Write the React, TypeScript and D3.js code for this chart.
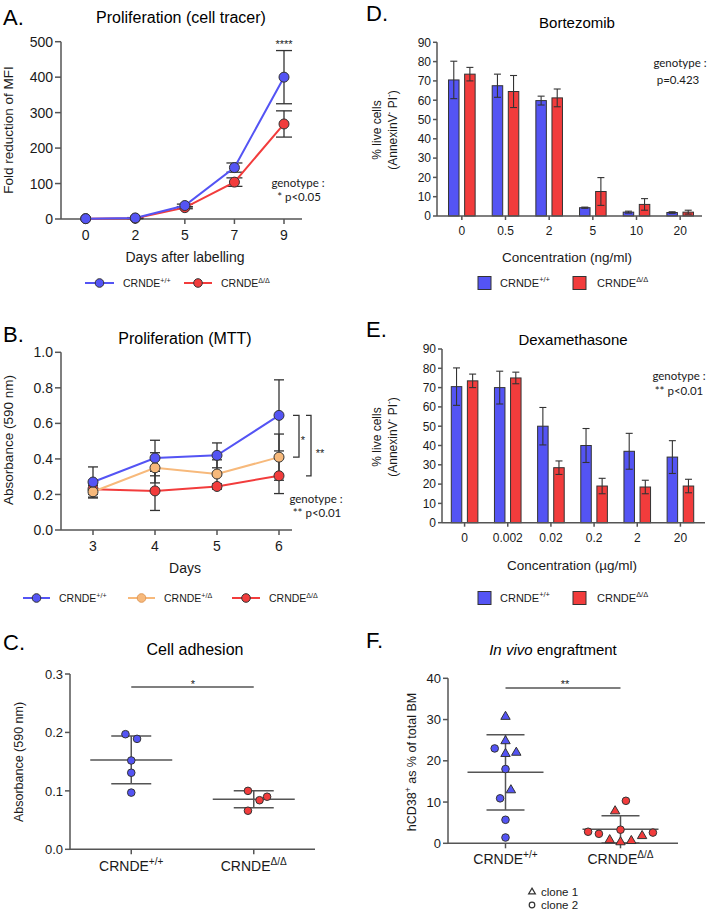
import React from "react";
import * as d3 from "d3";

const BLUE = "#5454f4";
const RED = "#f23c3c";
const ORANGE = "#f7b97b";
const AX = "#555";
const TXT = "#1a1a1a";
const EB = "#333";
const F = "'Liberation Sans', Arial, sans-serif";
const FA = "Lato, 'Open Sans', sans-serif";

// ---------- Panel A: proliferation (cell tracer)
const daysA = ["0", "2", "5", "7", "9"];
const aWT = [1, 3, 38, 145, 400];
const aWTerr = [0, 1, 4, 13, 75];
const aKO = [1, 2, 32, 104, 268];
const aKOerr = [0, 1, 3, 12, 37];
const aTicks = [0, 100, 200, 300, 400, 500];

// ---------- Panel B: proliferation (MTT)
const daysB = ["3", "4", "5", "6"];
const bWT = [0.27, 0.405, 0.42, 0.645];
const bWTerr = [0.085, 0.1, 0.07, 0.2];
const bHet = [0.215, 0.35, 0.315, 0.41];
const bHetErr = [0.035, 0.085, 0.08, 0.13];
const bKO = [0.23, 0.22, 0.245, 0.305];
const bKOerr = [0.03, 0.11, 0.015, 0.1];
const bTicks = [0, 0.2, 0.4, 0.6, 0.8, 1.0];

// ---------- Panel C: cell adhesion
const groups = ["wt", "ko"];
const cWT = [0.197, 0.189, 0.152, 0.131, 0.097];
const cWTslot = [-1, 1, 0, 0, 0];
const cKO = [0.1, 0.084, 0.09, 0.066];
const cKOslot = [-1, 1, 2.3, -1];
const cMean = [0.153, 0.0855];
const cSD = [0.041, 0.0145];
const cTicks = [0, 0.1, 0.2, 0.3];

// ---------- Panel D: bortezomib
const concD = ["0", "0.5", "2", "5", "10", "20"];
const dWT = [70.5, 67.5, 59.8, 4.3, 2.0, 1.8];
const dWTerr = [9.7, 6, 2.3, 0.3, 0.5, 0.4];
const dKO = [73.5, 64.5, 61.2, 12.7, 6.0, 2.0];
const dKOerr = [3.5, 8.3, 4.6, 7.2, 3.0, 1.0];
const pctTicks = [0, 10, 20, 30, 40, 50, 60, 70, 80, 90];

// ---------- Panel E: dexamethasone
const concE = ["0", "0.002", "0.02", "0.2", "2", "20"];
const eWT = [70.5, 70, 50, 40, 37, 34];
const eWTerr = [9.7, 8.5, 9.7, 8.8, 9.3, 8.5];
const eKO = [73.5, 75, 28.5, 19, 18.5, 19];
const eKOerr = [3.5, 3, 3.5, 4, 3.5, 3.5];

// ---------- Panel F: in vivo engraftment
const fWTtri = [30.7, 24.8, 21.7, 22.0, 12.9];
const fWTtriSlot = [0, 0, 0, 2, 1];
const fWTcirc = [23.0, 18.0, 10.9, 5.7, 1.4];
const fWTcircSlot = [-2, 0, -1, 0, 0];
const fKOtri = [7.8, 0.8, 0.3, 0.6, 1.8];
const fKOtriSlot = [-1, -2, 0, 2, 4];
const fKOcirc = [10.3, 3.3, 2.8, 2.3, 2.6];
const fKOcircSlot = [1, 0, -6, -4, 6];
const fMean = [17.2, 3.4];
const fSD = [9.1, 3.3];
const fTicks = [0, 10, 20, 30, 40];

type Part = [string, boolean];
function Rich({ parts, fs, supScale = 0.68 }: { parts: Part[]; fs: number; supScale?: number }) {
  let cur = 0;
  return (
    <>
      {parts.map(([s, sup], i) => {
        const target = sup ? -fs * 0.42 : 0;
        const dy = target - cur;
        cur = target;
        return (
          <tspan key={i} dy={dy} fontSize={sup ? fs * supScale : fs}>
            {s}
          </tspan>
        );
      })}
    </>
  );
}

const WTp: Part[] = [["CRNDE", false], ["+/+", true]];
const HETp: Part[] = [["CRNDE", false], ["+/Δ", true]];
const KOp: Part[] = [["CRNDE", false], ["Δ/Δ", true]];

function YAxis({ scale, x, ticks, fmt, fs, tl = 5 }: any) {
  const [a, b] = scale.range();
  return (
    <g>
      <line x1={x} x2={x} y1={a} y2={b} stroke={AX} strokeWidth={1.5} />
      {ticks.map((t: number) => (
        <g key={t}>
          <line x1={x - tl} x2={x} y1={scale(t)} y2={scale(t)} stroke={AX} strokeWidth={1.5} />
          <text x={x - tl - 2} y={scale(t)} dy="0.36em" textAnchor="end" fontSize={fs} fontFamily={F} fill={TXT}>
            {fmt(t)}
          </text>
        </g>
      ))}
    </g>
  );
}

function XAxis({ y, x0, x1, pos, labels, fs, ly, tl = 5, parts }: any) {
  return (
    <g>
      <line x1={x0} x2={x1} y1={y} y2={y} stroke={AX} strokeWidth={1.5} />
      {pos.map((p: number, i: number) => (
        <g key={i}>
          <line x1={p} x2={p} y1={y} y2={y + tl} stroke={AX} strokeWidth={1.5} />
          <text x={p} y={ly} textAnchor="middle" fontSize={fs} fontFamily={F} fill={TXT}>
            {parts ? <Rich parts={parts[i]} fs={fs} supScale={0.72} /> : labels[i]}
          </text>
        </g>
      ))}
    </g>
  );
}

function ErrBar({ x, y0, y1, cap, w = 1.3 }: any) {
  return (
    <g stroke={EB} strokeWidth={w}>
      <line x1={x} x2={x} y1={y0} y2={y1} />
      <line x1={x - cap} x2={x + cap} y1={y0} y2={y0} />
      <line x1={x - cap} x2={x + cap} y1={y1} y2={y1} />
    </g>
  );
}

function YLabel({ x, y, fs, children }: any) {
  return (
    <text transform={`translate(${x},${y}) rotate(-90)`} textAnchor="middle" fontSize={fs} fontFamily={F} fill={TXT}>
      {children}
    </text>
  );
}

function PanelLetter({ x, y, t }: any) {
  return (
    <text x={x} y={y} fontSize={22} fontFamily={F} fill="#000">
      {t}
    </text>
  );
}

function Title({ x, y, children, fs = 16 }: any) {
  return (
    <text x={x} y={y} textAnchor="middle" fontSize={fs} fontFamily={F} fill="#000">
      {children}
    </text>
  );
}

function LineLegendItem({ x0, x1, y, color, parts, stroke = EB }: any) {
  return (
    <g>
      <line x1={x0} x2={x1} y1={y} y2={y} stroke={color} strokeWidth={2} />
      <circle cx={(x0 + x1) / 2} cy={y} r={4.3} fill={color} stroke={stroke} strokeWidth={1} />
      <text x={x1 + 9} y={y + 4} fontSize={10.5} fontFamily={F} fill={TXT}>
        <Rich parts={parts} fs={10.5} />
      </text>
    </g>
  );
}

function BarLegend({ y }: any) {
  return (
    <g>
      <rect x={478} y={y - 6.5} width={13} height={13} fill={BLUE} stroke={EB} strokeWidth={1} />
      <text x={500} y={y + 4} fontSize={11} fontFamily={F} fill={TXT}>
        <Rich parts={WTp} fs={11} />
      </text>
      <rect x={573} y={y - 6.5} width={13} height={13} fill={RED} stroke={EB} strokeWidth={1} />
      <text x={597} y={y + 4} fontSize={11} fontFamily={F} fill={TXT}>
        <Rich parts={KOp} fs={11} />
      </text>
    </g>
  );
}

function LinePanelSeries({ x, y, vals, errs, color, cap, r }: any) {
  const pts = vals.map((v: number, i: number) => [x(i), y(v)] as [number, number]);
  const line = d3.line()(pts) || "";
  return { pts, line, vals, errs, color, cap, r };
}

function BarPanel({ cats, wt, wtErr, ko, koErr, x0, x1, axX, axEnd, yTop, yBot, tickY }: any) {
  const xb = d3.scaleBand().domain(cats).range([x0, x1]).padding(0);
  const y = d3.scaleLinear().domain([0, 90]).range([yBot, yTop]);
  const bw = 10.5;
  const off = 2.8;
  return (
    <g>
      {cats.map((c: string, i: number) => {
        const cx = (xb(c) as number) + xb.bandwidth() / 2;
        const bx = cx - off - bw;
        const rx = cx + off;
        return (
          <g key={c}>
            <rect x={bx} y={y(wt[i])} width={bw} height={yBot - y(wt[i])} fill={BLUE} stroke={EB} strokeWidth={1} />
            <rect x={rx} y={y(ko[i])} width={bw} height={yBot - y(ko[i])} fill={RED} stroke={EB} strokeWidth={1} />
            <ErrBar x={bx + bw / 2} y0={y(wt[i] + wtErr[i])} y1={y(wt[i] - wtErr[i])} cap={3.5} w={1.1} />
            <ErrBar x={rx + bw / 2} y0={y(ko[i] + koErr[i])} y1={y(ko[i] - koErr[i])} cap={3.5} w={1.1} />
          </g>
        );
      })}
      <YAxis scale={y} x={axX} ticks={pctTicks} fmt={(t: number) => String(t)} fs={12} tl={4} />
      <XAxis
        y={yBot}
        x0={axX}
        x1={axEnd}
        pos={cats.map((c: string) => (xb(c) as number) + xb.bandwidth() / 2)}
        labels={cats}
        fs={12}
        ly={tickY}
        tl={4}
      />
    </g>
  );
}

export default function App() {
  // ---------- Panel A scales
  const xA = d3.scalePoint().domain(daysA).range([85.7, 284]);
  const yA = d3.scaleLinear().domain([0, 500]).range([219, 41.7]);
  const xAi = (i: number) => xA(daysA[i]) as number;
  const lineA = d3.line<number>().x((_, i) => xAi(i)).y((v) => yA(v));

  // ---------- Panel B scales
  const xB = d3.scalePoint().domain(daysB).range([93, 279]);
  const yB = d3.scaleLinear().domain([0, 1]).range([530, 352.3]);
  const xBi = (i: number) => xB(daysB[i]) as number;
  const lineB = d3.line<number>().x((_, i) => xBi(i)).y((v) => yB(v));
  const bSeries = [
    { vals: bKO, errs: bKOerr, color: RED },
    { vals: bHet, errs: bHetErr, color: ORANGE },
    { vals: bWT, errs: bWTerr, color: BLUE },
  ];

  // ---------- Panel C
  const xC = d3.scalePoint().domain(groups).range([70, 315]).padding(0.5);
  const yC = d3.scaleLinear().domain([0, 0.3]).range([849.3, 674]);
  const cPts = [cWT, cKO];
  const cSlots = [cWTslot, cKOslot];
  const cCol = [BLUE, RED];

  // ---------- Panel F
  const xF = d3.scalePoint().domain(groups).range([448, 678]).padding(0.5);
  const yF = d3.scaleLinear().domain([0, 40]).range([843.3, 678.3]);
  const tri = d3.symbol().type(d3.symbolTriangle).size(38)() || "";
  const slotF = 5.4;

  return (
    <svg width={707} height={910} style={{ position: "absolute", left: 0, top: 0, background: "#fff" }}>
      <rect width={707} height={910} fill="#fff" />

      {/* ================= Panel A ================= */}
      <PanelLetter x={3} y={25} t="A." />
      <Title x={181} y={23}>Proliferation (cell tracer)</Title>
      <YAxis scale={yA} x={61} ticks={aTicks} fmt={(t: number) => String(t)} fs={14} tl={6} />
      <XAxis y={219} x0={61} x1={302} pos={daysA.map((d) => xA(d) as number)} labels={daysA} fs={14} ly={240} />
      <YLabel x={13} y={130} fs={13.5}>Fold reduction of MFI</YLabel>
      <text x={185} y={262} textAnchor="middle" fontSize={14} fontFamily={F} fill={TXT}>
        Days after labelling
      </text>
      {[
        { vals: aKO, errs: aKOerr, color: RED },
        { vals: aWT, errs: aWTerr, color: BLUE },
      ].map((s, k) => (
        <g key={k}>
          {s.vals.map((v, i) =>
            s.errs[i] > 0 ? <ErrBar key={i} x={xAi(i)} y0={yA(v + s.errs[i])} y1={yA(v - s.errs[i])} cap={8} /> : null
          )}
        </g>
      ))}
      {[
        { vals: aKO, color: RED },
        { vals: aWT, color: BLUE },
      ].map((s, k) => (
        <g key={k}>
          <path d={lineA(s.vals) || ""} fill="none" stroke={s.color} strokeWidth={2} />
          {s.vals.map((v, i) => (
            <circle key={i} cx={xAi(i)} cy={yA(v)} r={5} fill={s.color} stroke={EB} strokeWidth={1} />
          ))}
        </g>
      ))}
      <text x={284} y={48} textAnchor="middle" fontSize={11} fontFamily={F} fill={TXT}>****</text>
      <text x={298} y={187} textAnchor="middle" fontSize={11.5} fontFamily={FA} fill={TXT}>genotype :</text>
      <text x={299} y={201} textAnchor="middle" fontSize={11.5} fontFamily={FA} fill={TXT}>* p&lt;0.05</text>
      <LineLegendItem x0={85} x1={114} y={283} color={BLUE} parts={WTp} />
      <LineLegendItem x0={184} x1={212} y={283} color={RED} parts={KOp} />

      {/* ================= Panel B ================= */}
      <PanelLetter x={3} y={342} t="B." />
      <Title x={185} y={344}>Proliferation (MTT)</Title>
      <YAxis scale={yB} x={61} ticks={bTicks} fmt={d3.format(".1f")} fs={14} tl={6} />
      <XAxis y={530} x0={61} x1={292} pos={daysB.map((d) => xB(d) as number)} labels={daysB} fs={14} ly={551} />
      <YLabel x={13} y={440} fs={13.5}>Absorbance (590 nm)</YLabel>
      <text x={185} y={573} textAnchor="middle" fontSize={14} fontFamily={F} fill={TXT}>Days</text>
      {bSeries.map((s, k) => (
        <g key={k}>
          {s.vals.map((v, i) => (
            <ErrBar key={i} x={xBi(i)} y0={yB(v + s.errs[i])} y1={yB(v - s.errs[i])} cap={5} />
          ))}
        </g>
      ))}
      {bSeries.map((s, k) => (
        <g key={k}>
          <path d={lineB(s.vals) || ""} fill="none" stroke={s.color} strokeWidth={2} />
          {s.vals.map((v, i) => (
            <circle key={i} cx={xBi(i)} cy={yB(v)} r={5} fill={s.color} stroke={EB} strokeWidth={1} />
          ))}
        </g>
      ))}
      {/* significance brackets */}
      <g stroke={EB} strokeWidth={1.3} fill="none">
        <path d={`M293,${yB(bWT[3])}H299V${yB(bHet[3])}H293`} />
        <path d={`M306,${yB(bWT[3])}H311V${yB(bKO[3])}H306`} />
      </g>
      <text x={303} y={444} textAnchor="middle" fontSize={11} fontFamily={F} fill={TXT}>*</text>
      <text x={320} y={457} textAnchor="middle" fontSize={11} fontFamily={F} fill={TXT}>**</text>
      <text x={316} y={503} textAnchor="middle" fontSize={11.5} fontFamily={FA} fill={TXT}>genotype :</text>
      <text x={317} y={517} textAnchor="middle" fontSize={11.5} fontFamily={FA} fill={TXT}>** p&lt;0.01</text>
      <LineLegendItem x0={23} x1={50} y={598} color={BLUE} parts={WTp} />
      <LineLegendItem x0={128} x1={155} y={598} color={ORANGE} parts={HETp} stroke="#e09a5a" />
      <LineLegendItem x0={232} x1={260} y={598} color={RED} parts={KOp} />

      {/* ================= Panel C ================= */}
      <PanelLetter x={3} y={650} t="C." />
      <Title x={195} y={655}>Cell adhesion</Title>
      <YAxis scale={yC} x={70} ticks={cTicks} fmt={d3.format(".1f")} fs={13} tl={5} />
      <XAxis
        y={849.3}
        x0={70}
        x1={315}
        pos={groups.map((g) => xC(g) as number)}
        parts={[WTp, KOp]}
        fs={14}
        ly={871}
      />
      <YLabel x={23} y={762} fs={12.5}>Absorbance (590 nm)</YLabel>
      {groups.map((g, gi) => {
        const cx = xC(g) as number;
        const m = cMean[gi];
        const s = cSD[gi];
        return (
          <g key={g} stroke={AX} strokeWidth={1.5}>
            <line x1={cx - 41} x2={cx + 41} y1={yC(m)} y2={yC(m)} />
            <line x1={cx - 20} x2={cx + 20} y1={yC(m + s)} y2={yC(m + s)} />
            <line x1={cx - 20} x2={cx + 20} y1={yC(m - s)} y2={yC(m - s)} />
            <line x1={cx} x2={cx} y1={yC(m + s)} y2={yC(m - s)} />
          </g>
        );
      })}
      {groups.map((g, gi) =>
        cPts[gi].map((v, i) => (
          <circle
            key={g + i}
            cx={(xC(g) as number) + cSlots[gi][i] * 5.8}
            cy={yC(v)}
            r={3.8}
            fill={cCol[gi]}
            stroke={EB}
            strokeWidth={1}
          />
        ))
      )}
      <line x1={xC("wt") as number} x2={xC("ko") as number} y1={687} y2={687} stroke={AX} strokeWidth={1.3} />
      <text x={193} y={688} textAnchor="middle" fontSize={11} fontFamily={F} fill={TXT}>*</text>

      {/* ================= Panel D ================= */}
      <PanelLetter x={366} y={21} t="D." />
      <Title x={577} y={28} fs={15}>Bortezomib</Title>
      <BarPanel cats={concD} wt={dWT} wtErr={dWTerr} ko={dKO} koErr={dKOerr} x0={440} x1={702} axX={437} axEnd={702} yTop={42.3} yBot={216} tickY={235} />
      <YLabel x={381} y={130} fs={12}>% live cells</YLabel>
      <YLabel x={397} y={130} fs={12}>
        <Rich parts={[["(AnnexinV", false], ["-", true], [" PI", false], ["-", true], [")", false]]} fs={12} />
      </YLabel>
      <text x={567} y={262} textAnchor="middle" fontSize={13.5} fontFamily={F} fill={TXT}>Concentration (ng/ml)</text>
      <text x={680} y={67} textAnchor="middle" fontSize={11.5} fontFamily={FA} fill={TXT}>genotype :</text>
      <text x={678} y={84} textAnchor="middle" fontSize={11.5} fontFamily={FA} fill={TXT}>p=0.423</text>
      <BarLegend y={283} />

      {/* ================= Panel E ================= */}
      <PanelLetter x={366} y={337} t="E." />
      <Title x={573} y={345} fs={15}>Dexamethasone</Title>
      <BarPanel cats={concE} wt={eWT} wtErr={eWTerr} ko={eKO} koErr={eKOerr} x0={443} x1={702} axX={442} axEnd={705} yTop={349} yBot={522.7} tickY={542} />
      <YLabel x={381} y={437} fs={12}>% live cells</YLabel>
      <YLabel x={397} y={437} fs={12}>
        <Rich parts={[["(AnnexinV", false], ["-", true], [" PI", false], ["-", true], [")", false]]} fs={12} />
      </YLabel>
      <text x={572} y={570} textAnchor="middle" fontSize={13.5} fontFamily={F} fill={TXT}>Concentration (µg/ml)</text>
      <text x={679} y={380} textAnchor="middle" fontSize={11.5} fontFamily={FA} fill={TXT}>genotype :</text>
      <text x={679} y={395} textAnchor="middle" fontSize={11.5} fontFamily={FA} fill={TXT}>** p&lt;0.01</text>
      <BarLegend y={598} />

      {/* ================= Panel F ================= */}
      <PanelLetter x={366} y={648} t="F." />
      <text x={553} y={655} textAnchor="middle" fontSize={15} fontFamily={F} fill="#000">
        <tspan fontStyle="italic">In vivo</tspan> engraftment
      </text>
      <YAxis scale={yF} x={448} ticks={fTicks} fmt={(t: number) => String(t)} fs={13} tl={5} />
      <XAxis
        y={843.3}
        x0={448}
        x1={678}
        pos={groups.map((g) => xF(g) as number)}
        parts={[WTp, KOp]}
        fs={14}
        ly={864}
      />
      <YLabel x={416} y={762} fs={12.5}>
        <Rich parts={[["hCD38", false], ["+", true], [" as % of total BM", false]]} fs={12.5} />
      </YLabel>
      {groups.map((g, gi) => {
        const cx = xF(g) as number;
        const m = fMean[gi];
        const s = fSD[gi];
        return (
          <g key={g} stroke={AX} strokeWidth={1.5}>
            <line x1={cx - 38} x2={cx + 38} y1={yF(m)} y2={yF(m)} />
            <line x1={cx - 19} x2={cx + 19} y1={yF(m + s)} y2={yF(m + s)} />
            <line x1={cx - 19} x2={cx + 19} y1={yF(Math.max(0, m - s))} y2={yF(Math.max(0, m - s))} />
            <line x1={cx} x2={cx} y1={yF(m + s)} y2={yF(Math.max(0, m - s))} />
          </g>
        );
      })}
      {[
        { g: "wt", v: fWTcirc, s: fWTcircSlot, c: BLUE },
        { g: "ko", v: fKOcirc, s: fKOcircSlot, c: RED },
      ].map((d) =>
        d.v.map((v, i) => (
          <circle key={d.g + "c" + i} cx={(xF(d.g) as number) + d.s[i] * slotF} cy={yF(v)} r={3.8} fill={d.c} stroke={EB} strokeWidth={1} />
        ))
      )}
      {[
        { g: "wt", v: fWTtri, s: fWTtriSlot, c: BLUE },
        { g: "ko", v: fKOtri, s: fKOtriSlot, c: RED },
      ].map((d) =>
        d.v.map((v, i) => (
          <path
            key={d.g + "t" + i}
            d={tri}
            transform={`translate(${(xF(d.g) as number) + d.s[i] * slotF},${yF(v)})`}
            fill={d.c}
            stroke={EB}
            strokeWidth={1}
          />
        ))
      )}
      <line x1={xF("wt") as number} x2={xF("ko") as number} y1={688} y2={688} stroke={AX} strokeWidth={1.3} />
      <text x={565} y={688} textAnchor="middle" fontSize={11} fontFamily={F} fill={TXT}>**</text>
      <path d={d3.symbol().type(d3.symbolTriangle).size(20)() || ""} transform="translate(532,892)" fill="none" stroke={EB} strokeWidth={1.2} />
      <text x={541} y={896} fontSize={11.5} fontFamily={F} fill={TXT}>clone 1</text>
      <circle cx={532} cy={905} r={2.8} fill="none" stroke={EB} strokeWidth={1.2} />
      <text x={541} y={909} fontSize={11.5} fontFamily={F} fill={TXT}>clone 2</text>
    </svg>
  );
}
